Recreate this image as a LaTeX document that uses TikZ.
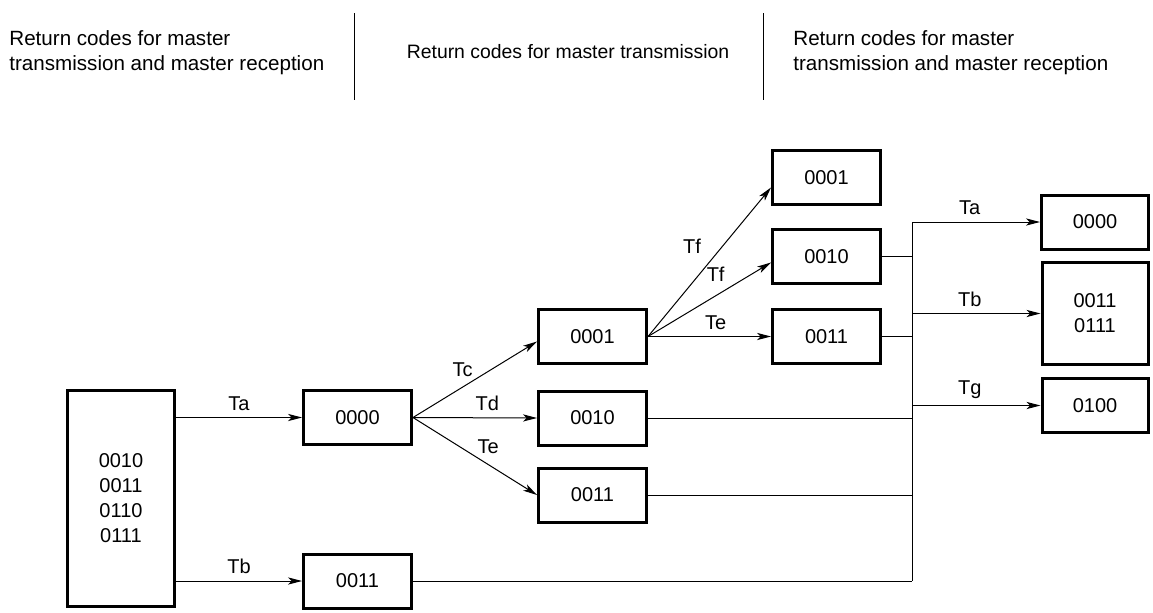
\documentclass[tikz,border=0pt]{standalone}
\usepackage{fontspec}
\setmainfont{Liberation Sans}
\usetikzlibrary{arrows.meta}

\tikzset{
    codebox/.style={draw, line width=1.5pt, minimum width=54pt, minimum height=27pt,
        inner sep=0pt, align=center, font=\fontsize{10}{12.5}\selectfont},
    trans/.style={line width=0.5pt, -{Stealth[length=7pt, width=3.6pt, inset=1.8pt]}},
    busline/.style={line width=0.5pt},
    tlabel/.style={font=\fontsize{10}{12}\selectfont},
    header/.style={font=\fontsize{10.3}{12.5}\selectfont, align=left, inner sep=0pt}
}

\begin{document}
\begin{tikzpicture}[x=0.5pt, y=-0.5pt]
        \useasboundingbox (0,0) rectangle (1153,612);
        % headers
        \node[header, anchor=west] (hleft) at (9,53) {Return codes for master\\transmission and master reception};
        \node[header, font=\fontsize{9.7}{12.5}\selectfont] (hmid) at (568,52) {Return codes for master transmission};
        \node[header, anchor=west] (hright) at (793,53) {Return codes for master\\transmission and master reception};
        \draw[busline] (354,13) -- (354,100);
        \draw[busline] (763,13) -- (763,100);
        % return code boxes
        \node[codebox, minimum width=53.5pt, minimum height=108pt] (start) at (121,498.5) {0010\\0011\\0110\\0111};
        \node[codebox] (a0) at (357.5,417.5) {0000};
        \node[codebox] (b0) at (357.5,581) {0011};
        \node[codebox] (c1) at (592.5,336.5) {0001};
        \node[codebox] (d1) at (592.5,418) {0010};
        \node[codebox] (e1) at (592.5,495) {0011};
        \node[codebox] (f2) at (826.5,177.5) {0001};
        \node[codebox] (g2) at (826.5,256.5) {0010};
        \node[codebox] (h2) at (826.5,336.5) {0011};
        \node[codebox, minimum width=53.5pt] (ra) at (1095,222) {0000};
        \node[codebox, minimum width=53pt, minimum height=51pt] (rb) at (1095,313.5) {0011\\0111};
        \node[codebox, minimum width=53pt] (rg) at (1095,405.5) {0100};
        % transitions
        \draw[trans] (a0.west -| start.east) -- (a0.west) node[tlabel, midway, above] {Ta};
        \draw[trans] (b0.west -| start.east) -- (b0.west) node[tlabel, midway, above] {Tb};
        \draw[trans] (a0.east) -- ([yshift=-2.5pt]c1.west) node[tlabel, midway, above left=0pt, inner sep=1pt] {Tc};
        \draw[trans] (a0.east) -- (d1.west) node[tlabel, pos=0.6, above] {Td};
        \draw[trans] (a0.east) -- (e1.west) node[tlabel, midway, above right=0pt, inner sep=1pt] {Te};
        \draw[trans] (c1.east) -- ([yshift=-5pt]f2.west) node[tlabel, midway, above left=3pt, inner sep=1pt] {Tf};
        \draw[trans] (c1.east) -- ([yshift=-3pt]g2.west) node[tlabel, pos=0.55, above=6pt, inner sep=1pt] {Tf};
        \draw[trans] (c1.east) -- (h2.west) node[tlabel, pos=0.55, above] {Te};
        % collecting line
        \coordinate (bus) at (912,0);
        \draw[busline] (ra.west -| bus) -- (b0.east -| bus);
        \foreach \n in {g2,h2,d1,e1,b0}
            \draw[busline] (\n.east) -- (\n.east -| bus);
        \draw[trans] (ra.west -| bus) -- (ra.west) node[tlabel, pos=0.45, above] {Ta};
        \draw[trans] (rb.west -| bus) -- (rb.west) node[tlabel, pos=0.45, above] {Tb};
        \draw[trans] (rg.west -| bus) -- (rg.west) node[tlabel, pos=0.45, above] {Tg};
\end{tikzpicture}
\end{document}
